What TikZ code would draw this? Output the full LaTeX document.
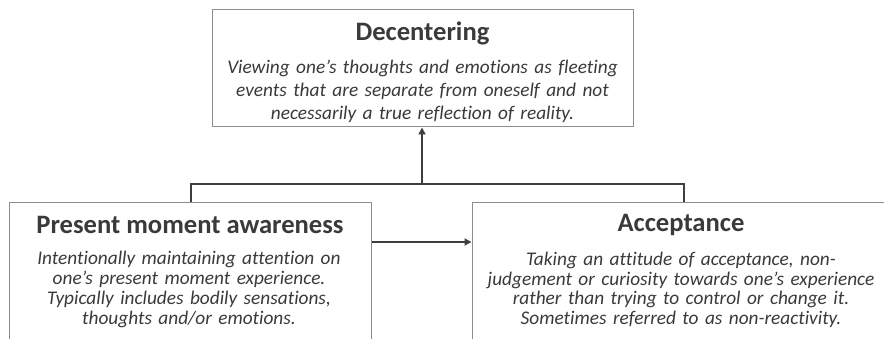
\documentclass[tikz,border=0pt]{standalone}
\usepackage{fontspec}
\setmainfont{Carlito}[Ligatures=NoCommon]
\usetikzlibrary{arrows.meta}
\definecolor{txt}{HTML}{3A3A3A}
\definecolor{edgegray}{HTML}{8C8C8C}
\definecolor{conn}{HTML}{3F3F3F}
\begin{document}
\begin{tikzpicture}[x=1pt,y=-1pt,
  box/.style={draw=edgegray,line width=1pt,fill=white,inner sep=0pt},
  titletext/.style={anchor=base,inner sep=0pt,text=txt,font=\fontsize{26.6}{30}\selectfont\bfseries},
  desctop/.style={anchor=base,inner sep=0pt,text=txt,align=center,text width=420pt,font=\fontsize{19.3}{23.3}\selectfont\itshape},
  descbot/.style={anchor=base,inner sep=0pt,text=txt,align=center,text width=420pt,font=\fontsize{19.3}{19.7}\selectfont\itshape},
  junc/.style={draw=conn,line width=2.6pt},
  arr/.style={draw=conn,line width=2pt,-{Triangle[length=7pt,width=7pt]}}]
\useasboundingbox (0,0) rectangle (884,339);
\clip (0,0) rectangle (884,339);
\fill[white] (0,0) rectangle (884,339);
% boxes
\node[box,minimum width=421pt,minimum height=117pt] (dec) at (422.5,68.5) {};
\node[box,minimum width=362pt,minimum height=177pt] (pma) at (190,291.5) {};
\node[box,minimum width=428pt,minimum height=177pt] (acc) at (686,291.5) {};
% texts
\node[titletext] (dect) at (422.5,40.7) {Decentering};
\node[desctop] (decd) at (422.5,73.3) {Viewing one’s thoughts and emotions as fleeting\\events that are separate from oneself and not\\necessarily a true reflection of reality.};
\node[titletext] (pmat) at (190,233.3) {Present moment awareness};
\node[descbot] (pmad) at (189,265) {Intentionally maintaining attention on\\one’s present moment experience.\\Typically includes bodily sensations,\\thoughts and/or emotions.};
\node[titletext] (acct) at (681,231.7) {Acceptance};
\node[descbot] (accd) at (681,265.5) {Taking an attitude of acceptance, non-\\judgement or curiosity towards one’s experience\\rather than trying to control or change it.\\Sometimes referred to as non-reactivity.};
% connectors
\coordinate (jl) at (191,184);
\coordinate (jr) at (684,184);
\coordinate (jm) at (422,184);
\coordinate (mid) at (420,242);
\draw[junc] (pma.north -| jl) -- (jl) -- (jr) -- (acc.north -| jr);
\draw[arr] (jm) -- (jm |- dec.south);
\draw[arr] (pma.east |- mid) -- (acc.west |- mid);
\end{tikzpicture}
\end{document}
